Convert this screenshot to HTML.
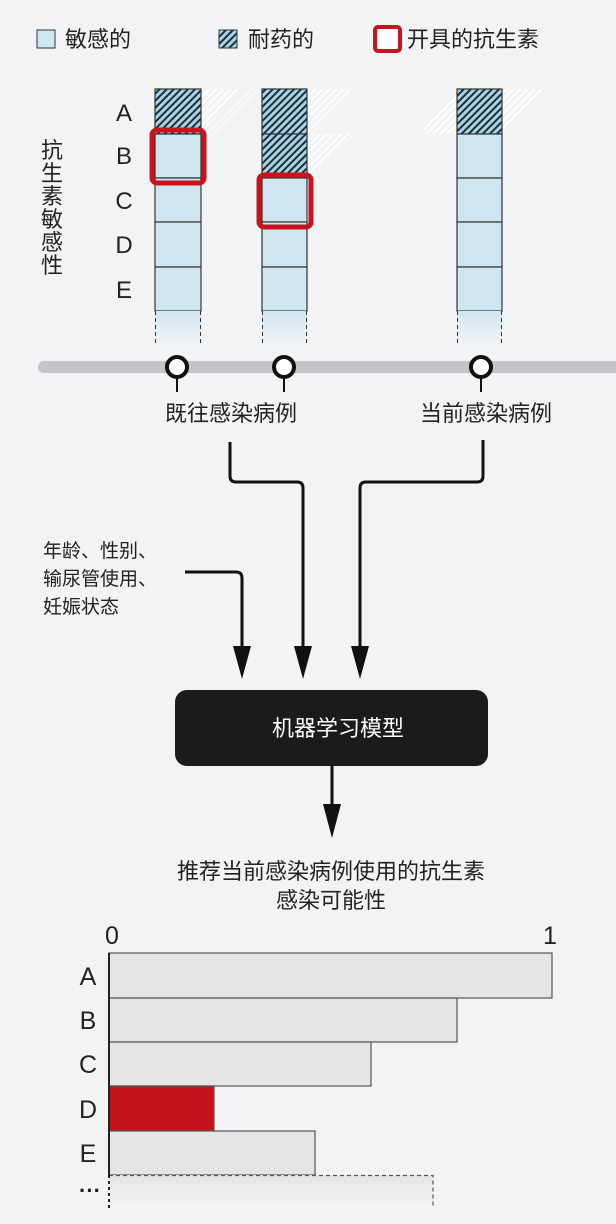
<!DOCTYPE html>
<html><head><meta charset="utf-8"><style>
html,body{margin:0;padding:0;background:#f2f3f5;}
svg{display:block;}
text{font-family:"Liberation Sans","Noto Sans CJK SC",sans-serif;fill:#222;}
</style></head><body>
<svg width="616" height="1224" viewBox="0 0 616 1224" xmlns="http://www.w3.org/2000/svg">
<defs>
<pattern id="h" patternUnits="userSpaceOnUse" width="5" height="5" patternTransform="rotate(45)">
<rect width="5" height="5" fill="#a9d3e6"/><rect width="2" height="5" fill="#1f2f38"/>
</pattern>
<pattern id="fh" patternUnits="userSpaceOnUse" width="5" height="5" patternTransform="rotate(45)">
<rect width="2" height="5" fill="#ffffff"/>
</pattern>
<linearGradient id="fade" x1="0" y1="0" x2="0" y2="1">
<stop offset="0" stop-color="#cfe6f1"/><stop offset="1" stop-color="#f2f3f5"/>
</linearGradient>
<linearGradient id="fade2" x1="0" y1="0" x2="0" y2="1">
<stop offset="0" stop-color="#e4e5e7"/><stop offset="1" stop-color="#f2f3f5"/>
</linearGradient>
</defs>
<rect width="616" height="1224" fill="#f2f3f5"/>
<!-- legend -->
<rect x="37" y="30" width="18" height="18" fill="#cfe6f1" stroke="#333" stroke-width="1"/>
<text x="65" y="47" font-size="22">敏感的</text>
<rect x="219" y="30" width="18" height="18" fill="url(#h)" stroke="#333" stroke-width="1"/>
<text x="248" y="47" font-size="22">耐药的</text>
<rect x="375" y="27" width="25" height="24" rx="3" fill="#fff" stroke="#c8151d" stroke-width="4"/>
<text x="407" y="47" font-size="22">开具的抗生素</text>
<!-- faint hatch extensions -->
<polygon points="201,89 240,89 201,134" fill="url(#fh)" opacity="0.9"/>
<polygon points="201,134 250,89 260,89 215,134" fill="url(#fh)" opacity="0.5"/>
<polygon points="307,89 355,89 307,140" fill="url(#fh)"/>
<polygon points="307,134 355,134 307,180" fill="url(#fh)"/>
<polygon points="457,89 420,134 457,134" fill="url(#fh)"/>
<polygon points="502,89 545,89 502,134" fill="url(#fh)"/>
<!-- columns -->
<g stroke="#333" stroke-width="1.2">
<rect x="155" y="89" width="46" height="45" fill="url(#h)"/>
<rect x="155" y="134" width="46" height="44" fill="#cfe6f1"/>
<rect x="155" y="178" width="46" height="44" fill="#cfe6f1"/>
<rect x="155" y="222" width="46" height="45" fill="#cfe6f1"/>
<rect x="155" y="267" width="46" height="44" fill="#cfe6f1"/>
<rect x="262" y="89" width="45" height="45" fill="url(#h)"/>
<rect x="262" y="134" width="45" height="44" fill="url(#h)"/>
<rect x="262" y="178" width="45" height="44" fill="#cfe6f1"/>
<rect x="262" y="222" width="45" height="45" fill="#cfe6f1"/>
<rect x="262" y="267" width="45" height="44" fill="#cfe6f1"/>
<rect x="457" y="89" width="45" height="45" fill="url(#h)"/>
<rect x="457" y="134" width="45" height="44" fill="#cfe6f1"/>
<rect x="457" y="178" width="45" height="44" fill="#cfe6f1"/>
<rect x="457" y="222" width="45" height="45" fill="#cfe6f1"/>
<rect x="457" y="267" width="45" height="44" fill="#cfe6f1"/>
</g>
<rect x="155" y="311" width="46" height="32" fill="url(#fade)"/>
<rect x="262" y="311" width="45" height="32" fill="url(#fade)"/>
<rect x="457" y="311" width="45" height="32" fill="url(#fade)"/>
<g stroke="#333" stroke-width="1" stroke-dasharray="4,3">
<line x1="155.5" y1="311" x2="155.5" y2="344"/><line x1="200.5" y1="311" x2="200.5" y2="344"/>
<line x1="262.5" y1="311" x2="262.5" y2="344"/><line x1="306.5" y1="311" x2="306.5" y2="344"/>
<line x1="457.5" y1="311" x2="457.5" y2="344"/><line x1="501.5" y1="311" x2="501.5" y2="344"/>
</g>
<rect x="152" y="130" width="52" height="53" rx="5" fill="none" stroke="#c8151d" stroke-width="5"/>
<rect x="259" y="175" width="52" height="52" rx="5" fill="none" stroke="#c8151d" stroke-width="5"/>
<!-- row letters -->
<g font-size="24" text-anchor="middle">
<text x="124" y="121">A</text><text x="124" y="164">B</text><text x="124" y="209">C</text><text x="124" y="253">D</text><text x="124" y="298">E</text>
</g>
<g font-size="22" text-anchor="middle">
<text x="52" y="158">抗</text><text x="52" y="181">生</text><text x="52" y="204">素</text><text x="52" y="227">敏</text><text x="52" y="250">感</text><text x="52" y="273">性</text>
</g>
<!-- timeline -->
<line x1="44" y1="367" x2="616" y2="367" stroke="#c4c5c8" stroke-width="12" stroke-linecap="round"/>
<g stroke="#111" stroke-width="2">
<line x1="177" y1="375" x2="177" y2="392"/><line x1="284" y1="375" x2="284" y2="392"/><line x1="481" y1="375" x2="481" y2="392"/>
</g>
<g fill="#fff" stroke="#111" stroke-width="4">
<circle cx="177" cy="367" r="10"/><circle cx="284" cy="367" r="10"/><circle cx="481" cy="367" r="10"/>
</g>
<text x="231" y="421" font-size="22" text-anchor="middle">既往感染病例</text>
<text x="486" y="421" font-size="22" text-anchor="middle">当前感染病例</text>
<!-- connectors -->
<g fill="none" stroke="#111" stroke-width="3">
<path d="M230 442 V476 Q230 482 236 482 H297 Q303 482 303 488 V655"/>
<path d="M483 440 V476 Q483 482 477 482 H366 Q360 482 360 488 V655"/>
<path d="M185 572 H236 Q242 572 242 578 V655"/>
<line x1="332" y1="766" x2="332" y2="810"/>
</g>
<g fill="#111">
<polygon points="233,646 251,646 242,679"/>
<polygon points="294,646 312,646 303,679"/>
<polygon points="351,646 369,646 360,679"/>
<polygon points="323,804 341,804 332,838"/>
</g>
<g font-size="19">
<text x="43" y="557">年龄、性别、</text>
<text x="43" y="585">输尿管使用、</text>
<text x="43" y="613">妊娠状态</text>
</g>
<rect x="175" y="690" width="313" height="76" rx="12" fill="#1c1a1a"/>
<text x="338" y="736" font-size="22" fill="#fff" style="fill:#fff" text-anchor="middle">机器学习模型</text>
<text x="331" y="879" font-size="22" text-anchor="middle">推荐当前感染病例使用的抗生素</text>
<text x="331" y="908" font-size="22" text-anchor="middle">感染可能性</text>
<!-- chart -->
<text x="112" y="944" font-size="25" text-anchor="middle">0</text>
<text x="550" y="944" font-size="25" text-anchor="middle">1</text>
<g stroke="#555" stroke-width="1.2">
<rect x="109" y="953" width="443" height="45" fill="#e4e5e7"/>
<rect x="109" y="998" width="348" height="44" fill="#e4e5e7"/>
<rect x="109" y="1042" width="262" height="44" fill="#e4e5e7"/>
<rect x="109" y="1086" width="105" height="45" fill="#c4121c"/>
<rect x="109" y="1131" width="206" height="44" fill="#e4e5e7"/>
</g>
<rect x="109" y="1175" width="324" height="32" fill="url(#fade2)"/>
<g stroke="#555" stroke-width="1.2" stroke-dasharray="4,3" fill="none">
<path d="M109 1175.5 H433 V1206"/>
</g>
<line x1="109" y1="953" x2="109" y2="1175" stroke="#222" stroke-width="2"/>
<line x1="109" y1="1175" x2="109" y2="1210" stroke="#222" stroke-width="2" stroke-dasharray="3,3"/>
<g font-size="25" text-anchor="middle">
<text x="88" y="985">A</text><text x="88" y="1029">B</text><text x="88" y="1073">C</text><text x="88" y="1118">D</text><text x="88" y="1162">E</text>
</g>
<text x="90" y="1198" font-size="22" text-anchor="middle" font-weight="bold">···</text>
</svg>
</body></html>
